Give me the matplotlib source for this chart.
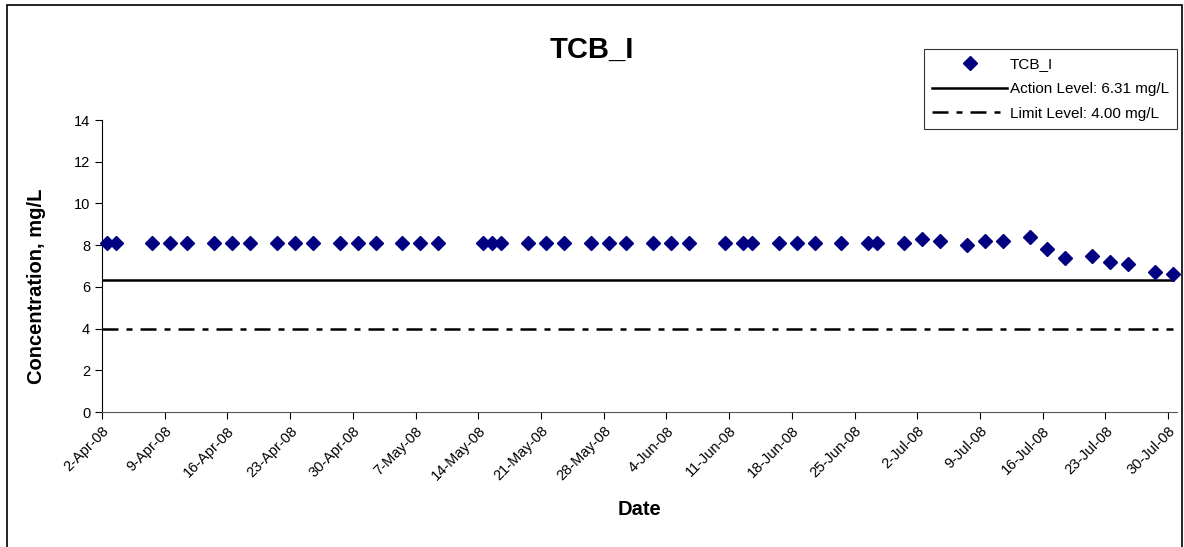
import datetime as dt
import matplotlib
matplotlib.use("Agg")
import matplotlib.pyplot as plt
from matplotlib.patches import Rectangle

plt.rcParams['font.family'] = ['Liberation Sans', 'DejaVu Sans']

# sample dates (samples taken around midday)
sample_dates = [
    "2008-04-02", "2008-04-03", "2008-04-07", "2008-04-09", "2008-04-11",
    "2008-04-14", "2008-04-16", "2008-04-18", "2008-04-21", "2008-04-23",
    "2008-04-25", "2008-04-28", "2008-04-30", "2008-05-02", "2008-05-05",
    "2008-05-07", "2008-05-09", "2008-05-14", "2008-05-15", "2008-05-16",
    "2008-05-19", "2008-05-21", "2008-05-23", "2008-05-26", "2008-05-28",
    "2008-05-30", "2008-06-02", "2008-06-04", "2008-06-06", "2008-06-10",
    "2008-06-12", "2008-06-13", "2008-06-16", "2008-06-18", "2008-06-20",
    "2008-06-23", "2008-06-26", "2008-06-27", "2008-06-30", "2008-07-02",
    "2008-07-04", "2008-07-07", "2008-07-09", "2008-07-11", "2008-07-14",
    "2008-07-16", "2008-07-18", "2008-07-21", "2008-07-23", "2008-07-25",
    "2008-07-28", "2008-07-30",
]
tcb_values = [
    8.1, 8.1, 8.1, 8.1, 8.1, 8.1, 8.1, 8.1, 8.1, 8.1,
    8.1, 8.1, 8.1, 8.1, 8.1, 8.1, 8.1, 8.1, 8.1, 8.1,
    8.1, 8.1, 8.1, 8.1, 8.1, 8.1, 8.1, 8.1, 8.1, 8.1,
    8.1, 8.1, 8.1, 8.1, 8.1, 8.1, 8.1, 8.1, 8.1, 8.3,
    8.2, 8.0, 8.2, 8.2, 8.4, 7.8, 7.4, 7.5, 7.2, 7.1,
    6.7, 6.6,
]
action_level = 6.31
limit_level = 4.00

dates = [dt.datetime.strptime(d, "%Y-%m-%d") + dt.timedelta(hours=13) for d in sample_dates]
x_start = dt.datetime(2008, 4, 2)
x_end = dt.datetime(2008, 7, 31)

fig = plt.figure(figsize=(11.84, 5.47), dpi=100)
# outer chart border
fig.patches.append(Rectangle((7 / 1184, -0.05), 1175 / 1184, 1.05 - 5 / 547,
                             transform=fig.transFigure, fill=False,
                             edgecolor='black', linewidth=1.2))

ax = fig.add_axes([102 / 1184, (547 - 412) / 547, 1075 / 1184, 292 / 547])

ax.plot(dates, tcb_values, linestyle='none', marker='D', markersize=7.5,
        color='#000080', label='TCB_I', clip_on=False, zorder=3)
ax.plot([x_start, dates[-1]], [action_level, action_level], color='black',
        linewidth=1.8, label='Action Level: 6.31 mg/L')
ax.plot([x_start, dates[-1]], [limit_level, limit_level], color='black',
        linewidth=1.8, dashes=(6.4, 3.2, 2.4, 3.2), label='Limit Level: 4.00 mg/L')

ax.set_xlim(x_start, x_end)
ax.set_ylim(0, 14)
ax.set_yticks(range(0, 15, 2))
ticks = [x_start + dt.timedelta(days=7 * i) for i in range(18)]
ax.set_xticks(ticks)
ax.set_xticklabels([f"{t.day}-{t.strftime('%b-%y')}" for t in ticks],
                   rotation=45, ha='right', rotation_mode='anchor', fontsize=10.5)
ax.tick_params(axis='y', labelsize=10.5, direction='out', length=5)
ax.tick_params(axis='x', direction='out', length=5)

for side in ['top', 'right']:
    ax.spines[side].set_visible(False)
ax.spines['left'].set_color('black')
ax.spines['bottom'].set_color('#555555')

# title is centred on the whole chart, not on the plot area
fig.text(0.5, 1 - 50 / 547, 'TCB_I', fontsize=21, fontweight='bold',
         ha='center', va='center')
ax.set_ylabel('Concentration, mg/L', fontsize=14.5, fontweight='bold', labelpad=20)
ax.yaxis.label.set_y(0.43)
ax.set_xlabel('Date', fontsize=14.5, fontweight='bold', labelpad=12)

leg = ax.legend(loc='upper left', bbox_to_anchor=(924 / 1184, 1 - 49 / 547),
                bbox_transform=fig.transFigure, fontsize=11, frameon=True,
                fancybox=False, edgecolor='black', handlelength=4.9,
                borderpad=0.55, labelspacing=0.7, handletextpad=0.15,
                borderaxespad=0)
leg.get_frame().set_linewidth(0.8)

fig.savefig('out.png', dpi=100)
